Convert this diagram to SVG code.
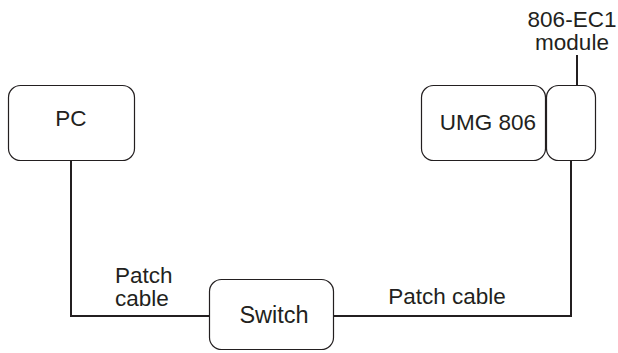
<svg xmlns="http://www.w3.org/2000/svg" width="618" height="353" viewBox="0 0 618 353">
<style>
.box{fill:#fff;stroke:#231f20;stroke-width:1.2}
.wire{fill:none;stroke:#231f20;stroke-width:2}
text{font-family:"Liberation Sans",Arial,sans-serif;font-size:22.5px;fill:#231f20}
.c{text-anchor:middle}
</style>
<rect width="618" height="353" fill="#fff"/>
<g id="connectors">
<polyline class="wire" points="71,161 71,316 209,316"/>
<polyline class="wire" points="334,316 571,316 571,161"/>
<line class="wire" x1="577" y1="55" x2="577" y2="85"/>
</g>
<g id="pc">
<rect class="box" x="8.5" y="85.5" width="126" height="75" rx="12"/>
<text class="c" x="71" y="126">PC</text>
</g>
<g id="umg806">
<rect class="box" x="421.5" y="85.5" width="124" height="75" rx="12"/>
<text class="c" x="488" y="130">UMG 806</text>
</g>
<g id="module">
<rect class="box" x="546.5" y="85.5" width="49" height="75" rx="12"/>
<text class="c" x="572" y="27">806-EC1</text>
<text class="c" x="572" y="50">module</text>
</g>
<g id="switch">
<rect class="box" x="209.5" y="279.5" width="124" height="70" rx="12"/>
<text class="c" x="274" y="323" style="font-size:23.5px">Switch</text>
</g>
<g id="labels">
<text x="115" y="283">Patch</text>
<text x="115" y="306">cable</text>
<text class="c" x="447" y="304">Patch cable</text>
</g>
</svg>
